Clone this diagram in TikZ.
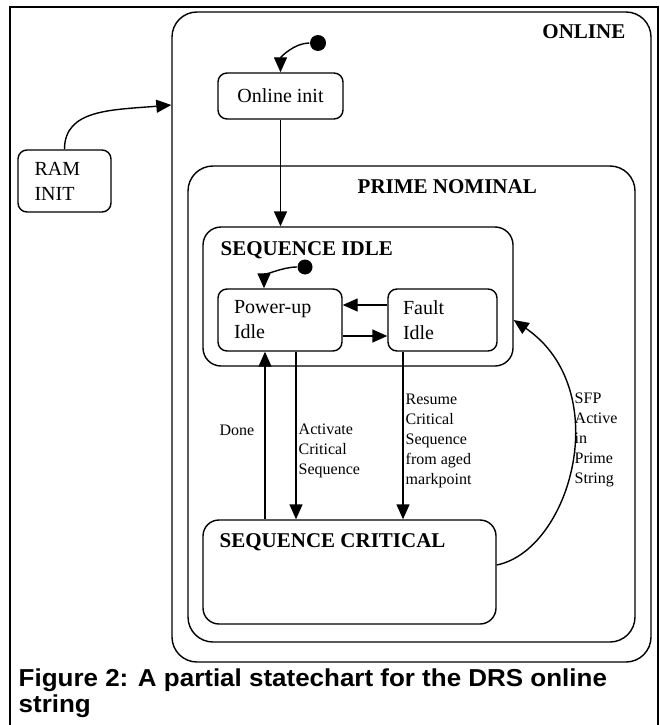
\documentclass[tikz,border=0pt]{standalone}
\usepackage{fontspec}
\setmainfont{Liberation Serif}
\newfontfamily\capfont[FakeStretch=1.06]{Liberation Sans}
\usepackage{tikz}
\usetikzlibrary{arrows.meta, calc, positioning}
\newcommand{\statefont}{\fontsize{20}{25}\selectfont}
\newcommand{\titlefont}{\fontsize{21}{24}\selectfont\bfseries}
\newcommand{\labelfont}{\fontsize{16}{20}\selectfont}

\begin{document}
\begin{tikzpicture}[x=1pt, y=-1pt, >={Triangle[length=15pt,width=13pt]}, line width=1.4pt]
    \tikzstyle{state}=[draw, rounded corners=9pt, inner sep=0pt, align=left]
    \tikzstyle{superstate}=[draw, rounded corners=25pt, inner sep=0pt]
    \tikzstyle{title}=[inner sep=0pt, font=\titlefont]
    \tikzstyle{point}=[circle, fill, inner sep=0pt, minimum size=16pt]
    \tikzstyle{trans}=[inner sep=2pt, align=left, font=\labelfont]
    \useasboundingbox (0,0) rectangle (660,725);

    % Frame
    \draw[line width=2pt] (10,725) -- (10,7) -- (658,7) -- (658,725);

    % Nested superstates
    \node (online)[superstate, minimum width=479pt, minimum height=650pt] at (411.5,337) {};
    \node (prime)[superstate, minimum width=447pt, minimum height=476pt] at (411.5,404) {};
    \node (sidle)[superstate, rounded corners=18pt, minimum width=310pt, minimum height=139pt] at (358,296.5) {};
    \node (scrit)[superstate, rounded corners=16pt, minimum width=293pt, minimum height=104pt] at (349.5,572) {};

    % Titles
    \node (onlineT)[title, anchor=base east] at (626,39) {ONLINE};
    \node (primeT)[title, anchor=base west] at (357,193) {PRIME NOMINAL};
    \node (sidleT)[title, anchor=base west] at (220,255) {SEQUENCE IDLE};
    \node (scritT)[title, anchor=base west] at (219,547) {SEQUENCE CRITICAL};

    % Simple states
    \node (ram)[state, minimum width=93pt, minimum height=62pt, text width=60pt, font=\statefont] at (64.5,181) {RAM\\INIT};
    \node (oinit)[state, minimum width=125pt, minimum height=46pt, font=\statefont] at (280.5,96) {Online init};
    \node (pidle)[state, minimum width=124pt, minimum height=62pt, text width=92pt, font=\statefont] at (280,320) {Power-up\\Idle};
    \node (fidle)[state, minimum width=109pt, minimum height=62pt, text width=79pt, font=\statefont] at (442.5,320) {Fault\\Idle};

    % Initial points
    \node (init1)[point] at (318,43) {};
    \node (init2)[point, minimum size=15pt] at (305,267) {};

    % Attachment points
    \coordinate (entry) at (online.west |- 0,105);
    \coordinate (doneTop) at ([xshift=-15pt]pidle.south);
    \coordinate (actTop) at ([xshift=16pt]pidle.south);
    \coordinate (resTop) at ([xshift=-39.5pt]fidle.south);

    % Transitions
    \draw[->] (init1.west) .. controls +(-15,0) and +(0,-15) .. (oinit.north);
    \draw[->] (ram.north) .. controls +(0,-40) and +(-60,5) .. (entry);
    \draw[->] (oinit.south) -- (oinit.south |- sidle.north);
    \draw[->] (init2.west) .. controls +(-15,0) and +(0,-12) .. ([xshift=-16pt]pidle.north);
    \draw[->] ([yshift=15pt]fidle.west) -- ([yshift=15pt]pidle.east);
    \draw[->] ([yshift=-16pt]pidle.east) -- ([yshift=-16pt]fidle.west);
    \draw[->] (doneTop |- scrit.north) -- (doneTop)
        node[trans, pos=.53, left=8pt] {Done};
    \draw[->] (actTop) -- (actTop |- scrit.north)
        node[trans, pos=.59, right=0pt] {Activate\\Critical\\Sequence};
    \draw[->] (resTop) -- (resTop |- scrit.north)
        node[trans, pos=.53, right=0pt] {Resume\\Critical\\Sequence\\from aged\\markpoint};
    \draw[->] ([yshift=7pt]scrit.east) .. controls +(74,-15) and +(102,70) .. ([yshift=-23.5pt]sidle.east);
    \node (sfp)[trans, anchor=west] at (572,440) {SFP\\Active\\in\\Prime\\String};

    % Caption
    \node (caption)[anchor=north west, align=left, inner sep=0pt, font=\capfont\fontsize{24.5}{26}\selectfont\bfseries] at (18,668)
        {Figure 2: A partial statechart for the DRS online\\string};
\end{tikzpicture}
\end{document}
